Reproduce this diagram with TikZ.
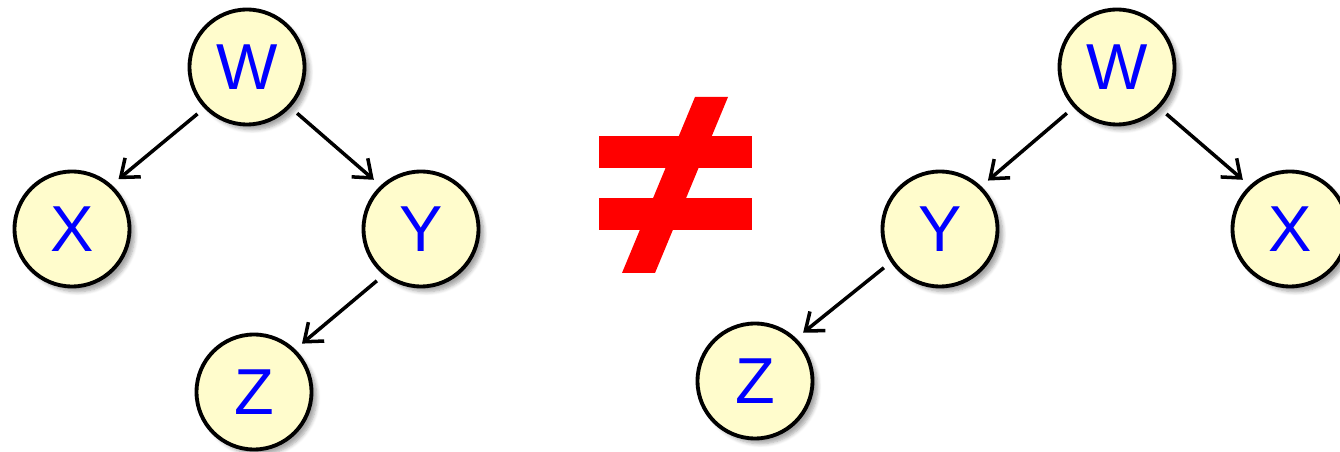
\documentclass[tikz,border=0pt]{standalone}
\usepackage{fontspec}
\setmainfont{Liberation Sans}
\usetikzlibrary{arrows.meta,shadows.blur}

\begin{document}
\begin{tikzpicture}[x=0.02cm,y=-0.02cm,
    treenode/.style={circle, draw=black, line width=2.2pt, fill=yellow!20,
        minimum size=2.3cm, inner sep=0pt, font=\fontsize{37}{40}\selectfont,
        text=blue,
        blur shadow={shadow xshift=3pt, shadow yshift=-3pt, shadow opacity=35, shadow blur steps=6}},
    link/.style={line width=2pt, shorten <=5pt, shorten >=5pt,
        -{Straight Barb[length=9pt,width=14pt,line width=2pt]}},
    noteq/.style={fill=red, draw=none}]
  \useasboundingbox (0,0) rectangle (1340,452);
  % left tree
  \node[treenode] (w1) at (247,67)  {W};
  \node[treenode] (x1) at (72,229)  {X};
  \node[treenode] (y1) at (421,229) {Y};
  \node[treenode] (z1) at (254,392) {Z};
  \draw[link] (w1.224) -- (x1.48);
  \draw[link] (w1.317) -- (y1.133);
  \draw[link] (y1.231) -- (z1.46);
  % not equal sign
  \fill[noteq] (599,136) rectangle (752,168);
  \fill[noteq] (599,198) rectangle (752,230);
  \fill[noteq] (695,97) -- (728,97) -- (655,273) -- (622,273) -- cycle;
  % right tree
  \node[treenode] (w2) at (1117,67) {W};
  \node[treenode] (y2) at (940,229) {Y};
  \node[treenode] (x2) at (1290,229) {X};
  \node[treenode] (z2) at (755,381) {Z};
  \draw[link] (w2.223) -- (y2.46);
  \draw[link] (w2.316) -- (x2.133);
  \draw[link] (y2.214) -- (z2.46);
\end{tikzpicture}
\end{document}
